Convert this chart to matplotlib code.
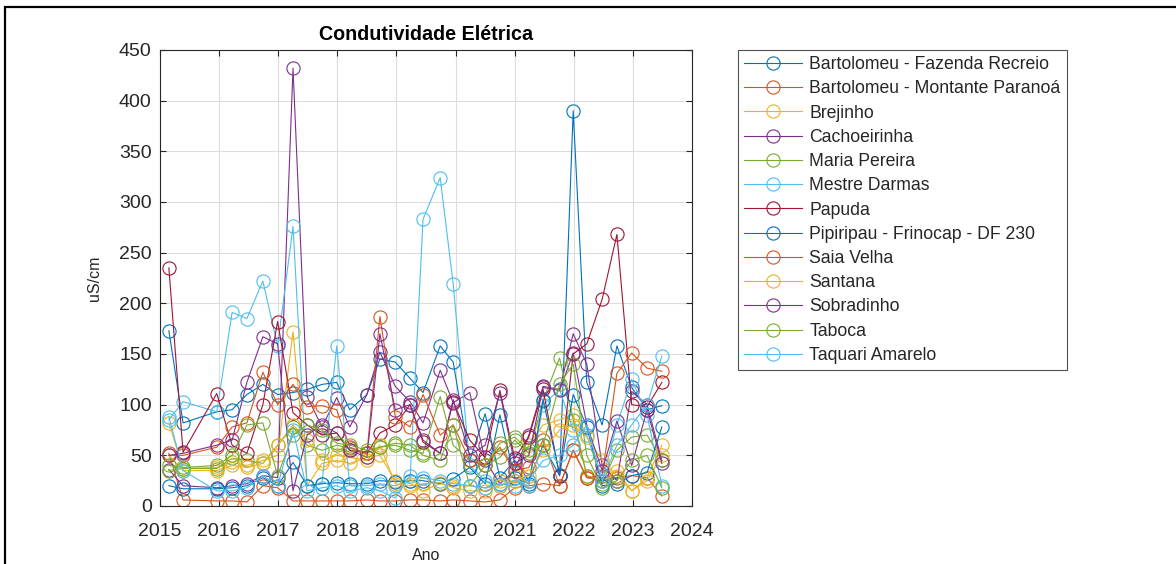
import matplotlib.pyplot as plt
import matplotlib.patches as mpatches
import numpy as np

plt.rcParams['font.family'] = ['Liberation Sans', 'DejaVu Sans']

# sampling dates (decimal years)
dates = [2015.15, 2015.39, 2015.96, 2016.22, 2016.47, 2016.74, 2016.99, 2017.25,
         2017.49, 2017.74, 2017.99, 2018.21, 2018.50, 2018.72, 2018.98, 2019.23,
         2019.45, 2019.74, 2019.96, 2020.24, 2020.50, 2020.75, 2021.00, 2021.24,
         2021.48, 2021.76, 2021.99, 2022.22, 2022.48, 2022.73, 2022.98, 2023.24,
         2023.49]

names = ['Bartolomeu - Fazenda Recreio', 'Bartolomeu - Montante Paranoá', 'Brejinho',
         'Cachoeirinha', 'Maria Pereira', 'Mestre Darmas', 'Papuda',
         'Pipiripau - Frinocap - DF 230', 'Saia Velha', 'Santana', 'Sobradinho',
         'Taboca', 'Taquari Amarelo']

bart_fr = [173, 82, 93, 95, 110, 120, 110, 112, 115, 120, 122, 95, 110, 145, 142, 126, 112,
           158, 142, 45, 91, 28, 45, 25, 60, 30, 390, 122, 80, 158, 117, 95, 99]
bart_mp = [52, 6, 5, 5, 4, 20, 18, 5, 5, 5, 5, 5, 6, 5, 5, 6, 6, 5, 6, 5, 4, 6, 18, 20,
           22, 20, 55, 28, 25, 28, 30, 28, 10]
brejinho = [82, 37, 38, 43, 40, 45, 50, 172, 20, 42, 45, 42, 48, 50, 25, 22, 15, 22, 20,
            20, 18, 25, 30, 60, 80, 85, 90, 30, 25, 35, 15, 28, 60]
cachoeirinha = [36, 20, 18, 20, 22, 30, 28, 432, 108, 78, 107, 78, 110, 152, 118, 103, 82,
                134, 102, 112, 45, 22, 35, 70, 118, 115, 170, 140, 40, 25, 113, 100, 45]
maria_pereira = [35, 37, 37, 47, 45, 42, 60, 78, 60, 55, 60, 57, 52, 58, 60, 55, 52, 108,
                 60, 45, 40, 48, 65, 52, 104, 146, 85, 30, 22, 55, 68, 70, 45]
mestre_darmas = [85, 103, 93, 191, 185, 222, 158, 276, 20, 22, 158, 20, 20, 22, 20, 25, 283,
                 324, 219, 40, 25, 20, 25, 20, 100, 115, 75, 70, 25, 80, 125, 90, 20]
papuda = [235, 53, 111, 60, 52, 100, 182, 92, 80, 70, 72, 55, 52, 72, 80, 100, 63, 52, 103,
          65, 48, 114, 47, 68, 115, 30, 150, 160, 204, 268, 100, 98, 122]
pipiripau = [20, 17, 17, 18, 20, 28, 20, 43, 20, 22, 23, 22, 22, 25, 24, 25, 25, 22, 27,
             38, 22, 90, 28, 22, 105, 31, 110, 78, 20, 22, 30, 33, 78]
saia_velha = [50, 50, 58, 78, 82, 132, 100, 120, 98, 99, 95, 58, 52, 187, 88, 78, 110, 70,
              80, 45, 40, 58, 35, 38, 65, 20, 55, 28, 30, 131, 151, 136, 133]
santana = [50, 35, 35, 40, 38, 42, 60, 80, 65, 45, 50, 48, 45, 60, 22, 20, 22, 23, 18, 15,
           15, 20, 25, 30, 55, 75, 80, 68, 45, 30, 15, 25, 50]
sobradinho = [50, 52, 60, 65, 122, 167, 160, 15, 70, 80, 72, 55, 48, 170, 95, 100, 65, 52,
              105, 50, 60, 112, 42, 50, 117, 114, 151, 80, 35, 84, 40, 95, 42]
taboca = [40, 38, 40, 50, 80, 82, 30, 70, 80, 75, 62, 60, 55, 58, 62, 60, 50, 45, 80, 20,
          40, 62, 68, 55, 60, 120, 140, 50, 18, 25, 45, 50, 18]
taquari = [88, 35, 15, 15, 18, 30, 20, 75, 15, 18, 20, 15, 18, 15, 8, 30, 28, 25, 22, 20,
           18, 22, 20, 25, 45, 50, 60, 80, 25, 60, 80, 100, 148]

series = [bart_fr, bart_mp, brejinho, cachoeirinha, maria_pereira, mestre_darmas, papuda,
          pipiripau, saia_velha, santana, sobradinho, taboca, taquari]

# MATLAB default colour order
matlab_colors = [(0, 0.447, 0.741), (0.85, 0.325, 0.098), (0.929, 0.694, 0.125),
                 (0.494, 0.184, 0.556), (0.466, 0.674, 0.188), (0.301, 0.745, 0.933),
                 (0.635, 0.078, 0.184)]

fig = plt.figure(figsize=(11.76, 5.64), dpi=100)
ax = fig.add_axes([160/1176, 1 - 506/564, 532/1176, 456/564])

for i, (name, vals) in enumerate(zip(names, series)):
    c = matlab_colors[i % len(matlab_colors)]
    ax.plot(dates, vals, '-o', color=c, lw=0.8, markersize=9.5,
            markerfacecolor='none', markeredgewidth=0.8, label=name)

ax.set_xlim(2015, 2024)
ax.set_ylim(0, 450)
ax.set_xticks(range(2015, 2025))
ax.set_yticks(range(0, 451, 50))
ax.tick_params(direction='in', top=True, right=True, labelsize=14, length=4, colors='#262626')
ax.tick_params(axis='x', pad=12)
ax.tick_params(axis='y', pad=6)
ax.grid(True, color='#dcdcdc', lw=0.8)
ax.set_axisbelow(True)
for s in ax.spines.values():
    s.set_color('#262626')
    s.set_linewidth(0.8)

ax.set_title('Condutividade Elétrica', fontsize=14.2, fontweight='bold', pad=7)
ax.set_xlabel('Ano', fontsize=11.5, color='#262626', labelpad=6)
ax.set_ylabel('uS/cm', fontsize=11.5, color='#262626', labelpad=12)

leg = ax.legend(loc='upper left', bbox_to_anchor=(738/1176, 1 - 50/564),
                bbox_transform=fig.transFigure, fontsize=12.7, frameon=True,
                fancybox=False, edgecolor='#262626', handlelength=3.3,
                labelspacing=0.41, borderpad=0.35, borderaxespad=0, handletextpad=0.4)
leg.get_frame().set_linewidth(0.8)
for t in leg.get_texts():
    t.set_color('#262626')

# outer frame of the original figure
fig.patches.append(mpatches.Rectangle((5/1176, -0.1), 1.2, 1 - 7/564 + 0.1,
                                      transform=fig.transFigure, fill=False,
                                      lw=1.6, edgecolor='black'))

fig.savefig('out.png', dpi=100)
